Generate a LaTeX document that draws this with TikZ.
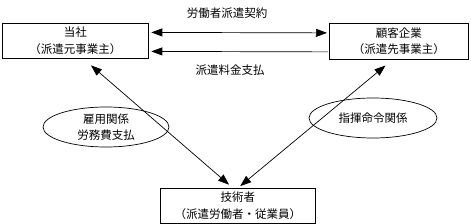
\documentclass[tikz,border=0pt]{standalone}
\usepackage{fontspec}
\setmainfont{Noto Sans CJK JP}
\usetikzlibrary{arrows.meta,shapes.geometric}
\begin{document}
\begin{tikzpicture}[x=1pt,y=-1pt,
  every node/.style={font=\fontsize{11.5}{16.5}\selectfont, inner sep=0pt},
  party/.style={draw, line width=0.8pt, align=center, anchor=north west},
  rel/.style={draw, ellipse, line width=0.7pt, align=center},
  lab/.style={},
  con/.style={line width=0.7pt, -{Triangle[length=11pt,width=8pt]}},
  bicon/.style={line width=0.7pt, {Triangle[length=11pt,width=8pt]}-{Triangle[length=11pt,width=8pt]}}]
\useasboundingbox (0,0) rectangle (471,224);
\node[party, minimum width=146pt, minimum height=35pt] (a) at (2,23) {当社\\（派遣元事業主）};
\node[party, minimum width=139pt, minimum height=36pt] (b) at (329,23) {顧客企業\\（派遣先事業主）};
\node[party, minimum width=155pt, minimum height=35pt] (c) at (160,188) {技術者\\（派遣労働者・従業員）};
\node[rel, minimum width=126pt, minimum height=40pt] (e1) at (106,127) {雇用関係\\労務費支払};
\node[rel, minimum width=128pt, minimum height=40pt] (e2) at (373,118) {指揮命令関係};
\node[lab] (l1) at (227,13) {労働者派遣契約};
\node[lab] (l2) at (230,70) {派遣料金支払};
\draw[bicon, shorten <=2.5pt, shorten >=2pt] ([yshift=8.5pt]a.east) -- ([yshift=8.5pt]b.west);
\draw[con, shorten <=1pt, shorten >=2.5pt] ([yshift=-10.5pt]b.west) -- ([yshift=-10.5pt]a.east);
\draw[bicon, shorten <=10pt, shorten >=5pt] ([xshift=8pt]a.south) -- ([xshift=-5pt]c.north);
\draw[bicon, shorten <=9pt, shorten >=3pt] ([xshift=-6.5pt]b.south) -- ([xshift=0pt]c.north);
\end{tikzpicture}
\end{document}
